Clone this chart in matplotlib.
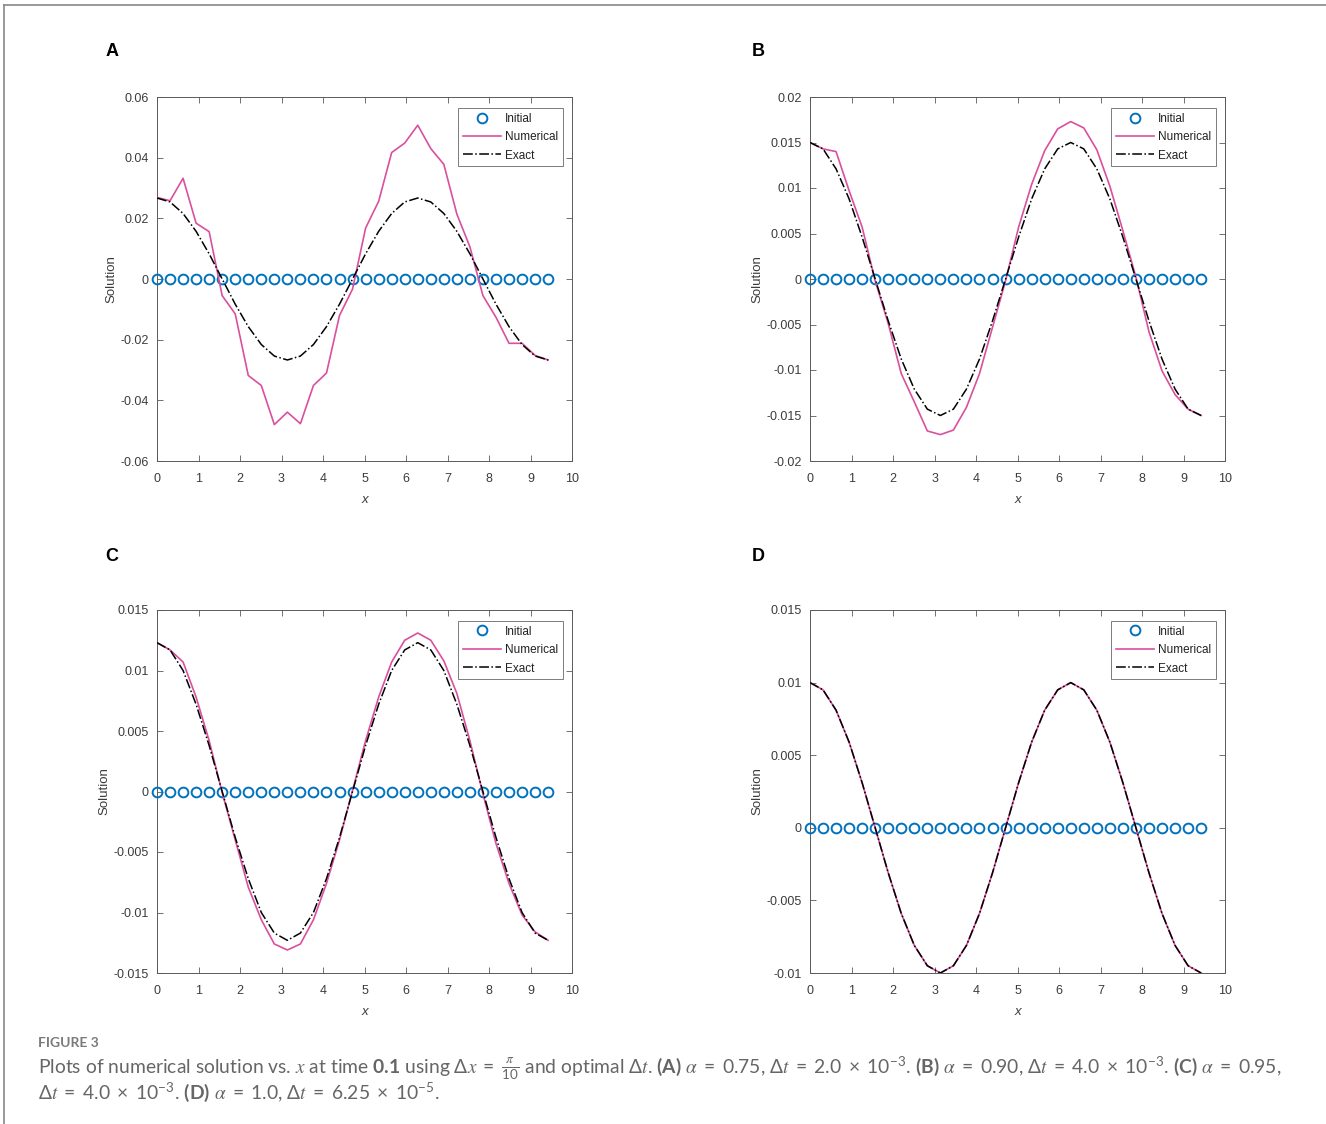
import numpy as np
import matplotlib
matplotlib.use("Agg")
import matplotlib.pyplot as plt
from matplotlib.lines import Line2D
from matplotlib.ticker import FuncFormatter

plt.rcParams["font.family"] = ["Liberation Sans", "DejaVu Sans"]
plt.rcParams["mathtext.fontset"] = "custom"
plt.rcParams["mathtext.rm"] = "Lato"
plt.rcParams["mathtext.it"] = "STIXGeneral:italic"
plt.rcParams["mathtext.bf"] = "Lato:bold"
plt.rcParams["mathtext.fallback"] = "stix"

# grid nodes, dx = pi/10 on [0, 3*pi]
x_nodes = [0.0, 0.3142, 0.6283, 0.9425, 1.2566, 1.5708, 1.8850, 2.1991, 2.5133, 2.8274,
           3.1416, 3.4558, 3.7699, 4.0841, 4.3982, 4.7124, 5.0265, 5.3407, 5.6549, 5.9690,
           6.2832, 6.5973, 6.9115, 7.2257, 7.5398, 7.8540, 8.1681, 8.4823, 8.7965, 9.1106,
           9.4248]
initial = [0.0] * 31

# panel A (alpha = 0.75)
num_a = [0.0269, 0.0258, 0.0332, 0.0184, 0.0156, -0.0055, -0.0115, -0.0318, -0.0351, -0.0480,
         -0.0439, -0.0477, -0.0351, -0.0310, -0.0120, -0.0033, 0.0168, 0.0256, 0.0417, 0.0448,
         0.0507, 0.0430, 0.0378, 0.0214, 0.0106, -0.0055, -0.0126, -0.0212, -0.0212, -0.0252,
         -0.0267]
exact_a = [0.0267, 0.0254, 0.0216, 0.0157, 0.0083, 0.0, -0.0083, -0.0157, -0.0216, -0.0254,
           -0.0267, -0.0254, -0.0216, -0.0157, -0.0083, 0.0, 0.0083, 0.0157, 0.0216, 0.0254,
           0.0267, 0.0254, 0.0216, 0.0157, 0.0083, 0.0, -0.0083, -0.0157, -0.0216, -0.0254,
           -0.0267]

# panel B (alpha = 0.90)
num_b = [0.0150, 0.0143, 0.0140, 0.0097, 0.0057, -0.0002, -0.0049, -0.0104, -0.0135, -0.0167,
         -0.0171, -0.0166, -0.0141, -0.0104, -0.0053, -0.0002, 0.0057, 0.0104, 0.0141, 0.0165,
         0.0173, 0.0166, 0.0142, 0.0102, 0.0053, 0.0002, -0.0058, -0.0101, -0.0127, -0.0143,
         -0.0150]
exact_b = [0.0150, 0.0143, 0.0121, 0.0088, 0.0046, 0.0, -0.0046, -0.0088, -0.0121, -0.0143,
           -0.0150, -0.0143, -0.0121, -0.0088, -0.0046, 0.0, 0.0046, 0.0088, 0.0121, 0.0143,
           0.0150, 0.0143, 0.0121, 0.0088, 0.0046, 0.0, -0.0046, -0.0088, -0.0121, -0.0143,
           -0.0150]

# panel C (alpha = 0.95)
num_c = [0.0123, 0.0117, 0.0107, 0.0078, 0.0042, -0.0001, -0.0040, -0.0079, -0.0106, -0.0126,
         -0.0131, -0.0126, -0.0106, -0.0076, -0.0040, 0.0001, 0.0042, 0.0078, 0.0107, 0.0125,
         0.0131, 0.0125, 0.0108, 0.0081, 0.0042, -0.0002, -0.0043, -0.0076, -0.0102, -0.0116,
         -0.0123]
exact_c = [0.0123, 0.0117, 0.0100, 0.0072, 0.0038, 0.0, -0.0038, -0.0072, -0.0100, -0.0117,
           -0.0123, -0.0117, -0.0100, -0.0072, -0.0038, 0.0, 0.0038, 0.0072, 0.0100, 0.0117,
           0.0123, 0.0117, 0.0100, 0.0072, 0.0038, 0.0, -0.0038, -0.0072, -0.0100, -0.0117,
           -0.0123]

# panel D (alpha = 1.0)
num_d = [0.0100, 0.0095, 0.0081, 0.0059, 0.0031, 0.0, -0.0031, -0.0059, -0.0081, -0.0095,
         -0.0100, -0.0095, -0.0081, -0.0059, -0.0031, 0.0, 0.0031, 0.0059, 0.0081, 0.0095,
         0.0100, 0.0095, 0.0081, 0.0059, 0.0031, 0.0, -0.0031, -0.0059, -0.0081, -0.0095,
         -0.0100]
exact_d = [0.0100, 0.0095, 0.0081, 0.0059, 0.0031, 0.0, -0.0031, -0.0059, -0.0081, -0.0095,
           -0.0100, -0.0095, -0.0081, -0.0059, -0.0031, 0.0, 0.0031, 0.0059, 0.0081, 0.0095,
           0.0100, 0.0095, 0.0081, 0.0059, 0.0031, 0.0, -0.0031, -0.0059, -0.0081, -0.0095,
           -0.0100]

panel_letters = ["A", "B", "C", "D"]
numerical = [num_a, num_b, num_c, num_d]
exact = [exact_a, exact_b, exact_c, exact_d]
y_ticks = [
    [-0.06, -0.04, -0.02, 0, 0.02, 0.04, 0.06],
    [-0.02, -0.015, -0.01, -0.005, 0, 0.005, 0.01, 0.015, 0.02],
    [-0.015, -0.01, -0.005, 0, 0.005, 0.01, 0.015],
    [-0.01, -0.005, 0, 0.005, 0.01, 0.015],
]
x_ticks = list(range(0, 11))

W, H = 1326, 1124
fig = plt.figure(figsize=(W / 100, H / 100), dpi=100)

# pixel boxes (left, top, right, bottom) of each axes
boxes = [(157, 97, 572, 461), (810, 97, 1225, 461),
         (157, 610, 572, 973), (810, 610, 1225, 973)]
label_pos = [(112, 52), (758, 52), (112, 556), (758, 556)]

blue = "#0072BD"
pink = "#DA4F9E"
axis_grey = "#5a5a5a"
text_grey = "#3c3c3c"

fmt = FuncFormatter(lambda v, p: "0" if abs(v) < 1e-12 else "%g" % v)

for k in range(4):
    l, t, r, b = boxes[k]
    ax = fig.add_axes([l / W, 1 - b / H, (r - l) / W, (b - t) / H])
    ax.plot(x_nodes, initial, "o", ls="none", color=blue, ms=7, mew=1.4,
            mfc="none", label="Initial", clip_on=False, zorder=3)
    ax.plot(x_nodes, numerical[k], "-", color=pink, lw=1.2, label="Numerical", zorder=4)
    ax.plot(x_nodes, exact[k], "-.", color="black", lw=1.1, label="Exact", zorder=5)

    ax.set_xlim(0, 10)
    ax.set_ylim(y_ticks[k][0], y_ticks[k][-1])
    ax.set_xticks(x_ticks)
    ax.set_yticks(y_ticks[k])
    ax.yaxis.set_major_formatter(fmt)
    ax.tick_params(direction="in", top=True, right=True, length=4, width=0.6,
                   color=axis_grey, labelsize=9, labelcolor=text_grey, pad=6)
    ax.tick_params(axis="x", pad=9)
    for s in ax.spines.values():
        s.set_color(axis_grey)
        s.set_linewidth(0.7)
    ax.set_xlabel("x", fontsize=9.5, style="italic", color=text_grey, labelpad=6)
    ax.set_ylabel("Solution", fontsize=9.5, color=text_grey, labelpad=2)

    leg = ax.legend(loc="upper right", bbox_to_anchor=(0.978, 0.97), fontsize=8.5,
                    frameon=True, fancybox=False, borderpad=0.4, labelspacing=0.55,
                    handlelength=3.3, handletextpad=0.3, borderaxespad=0)
    leg.get_frame().set_edgecolor(axis_grey)
    leg.get_frame().set_linewidth(0.7)
    for txt in leg.get_texts():
        txt.set_color("#222222")

    lx, ly = label_pos[k]
    fig.text(lx / W, 1 - ly / H, panel_letters[k], ha="center", va="center",
             fontsize=13, fontweight="bold", color="black")

# outer frame (left and top edges)
fig.add_artist(Line2D([4 / W, 4 / W], [0, 1 - 5 / H], color="#888888", lw=1.2))
fig.add_artist(Line2D([4 / W, 1], [1 - 5 / H, 1 - 5 / H], color="#888888", lw=1.2))

# caption
cap_grey = "#666666"
fig.text(38 / W, 1 - 1043 / H, "FIGURE 3", family="Lato", fontsize=10,
         color="#7a7a7a", va="center", fontweight="bold")
line1 = (r"Plots of numerical solution vs. $x$ at time $\mathbf{0.1}$ using "
         r"$\Delta x\ =\ \frac{\pi}{10}$ and optimal $\Delta t$. $\mathbf{(A)}$ "
         r"$\alpha\ =\ 0.75$, $\Delta t\ =\ 2.0\ \times\ 10^{-3}$. $\mathbf{(B)}$ "
         r"$\alpha\ =\ 0.90$, $\Delta t\ =\ 4.0\ \times\ 10^{-3}$. $\mathbf{(C)}$ "
         r"$\alpha\ =\ 0.95$,")
line2 = (r"$\Delta t\ =\ 4.0\ \times\ 10^{-3}$. $\mathbf{(D)}$ $\alpha\ =\ 1.0$, "
         r"$\Delta t\ =\ 6.25\ \times\ 10^{-5}$.")
fig.text(38 / W, 1 - 1073 / H, line1, family="Lato", fontsize=13.9, color=cap_grey,
         va="baseline")
fig.text(38 / W, 1 - 1099 / H, line2, family="Lato", fontsize=13.9, color=cap_grey,
         va="baseline")

fig.savefig("out.png", dpi=100)
